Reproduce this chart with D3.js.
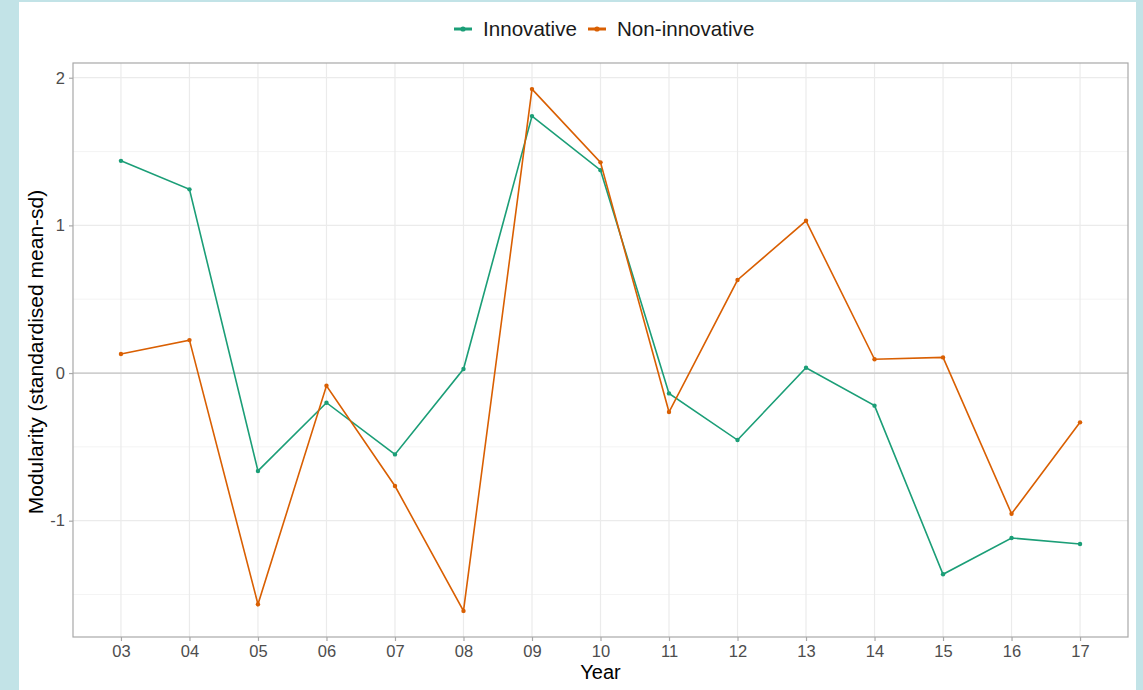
<!DOCTYPE html>
<html>
<head>
<meta charset="utf-8">
<script src="https://cdn.jsdelivr.net/npm/d3@7"></script>
<style>
  html, body { margin: 0; padding: 0; background: #c2e3e7; }
  svg { display: block; font-family: "Liberation Sans", Arial, Helvetica, sans-serif; }
</style>
</head>
<body>
<svg id="chart" width="1143" height="690"></svg>
<script>
// Years (two-digit labels) and the standardised modularity of each group
const years = [3, 4, 5, 6, 7, 8, 9, 10, 11, 12, 13, 14, 15, 16, 17];
const yearLabels = ["03", "04", "05", "06", "07", "08", "09", "10", "11", "12", "13", "14", "15", "16", "17"];
const innovative = [1.437, 1.244, -0.663, -0.201, -0.551, 0.027, 1.740, 1.374, -0.138, -0.454, 0.036, -0.221, -1.363, -1.117, -1.158];
const nonInnovative = [0.129, 0.223, -1.566, -0.086, -0.765, -1.611, 1.923, 1.427, -0.264, 0.630, 1.031, 0.093, 0.106, -0.953, -0.334];
const seriesNames = ["Innovative", "Non-innovative"];
const seriesColors = ["#1b9e77", "#d95f02"];
const yTicks = [-1, 0, 1, 2];
const yTickLabels = ["-1", "0", "1", "2"];
const yMinor = [-1.5, -0.5, 0.5, 1.5];

const series = [
  { name: seriesNames[0], color: seriesColors[0], values: innovative },
  { name: seriesNames[1], color: seriesColors[1], values: nonInnovative }
];

const svg = d3.select("#chart");

// white card on the tinted page
svg.append("rect").attr("x", 19).attr("y", 2).attr("width", 1117).attr("height", 688).attr("fill", "#fff");

const panel = { left: 73, top: 63, right: 1128, bottom: 637 };

// continuous scales with a 5% expansion either side
const xExt = d3.extent(years);
const xPad = (xExt[1] - xExt[0]) * 0.05;
const x = d3.scaleLinear().domain([xExt[0] - xPad, xExt[1] + xPad]).range([panel.left, panel.right]);

const allVals = innovative.concat(nonInnovative);
const yExt = d3.extent(allVals);
const yPad = (yExt[1] - yExt[0]) * 0.05;
const y = d3.scaleLinear().domain([yExt[0] - yPad, yExt[1] + yPad]).range([panel.bottom, panel.top]);

const g = svg.append("g");

// minor grid
g.selectAll("line.ymin").data(yMinor).enter().append("line")
  .attr("x1", panel.left).attr("x2", panel.right)
  .attr("y1", d => y(d)).attr("y2", d => y(d))
  .attr("stroke", "#f0f0f0").attr("stroke-width", 0.8);

// major grid
g.selectAll("line.ymaj").data(yTicks).enter().append("line")
  .attr("x1", panel.left).attr("x2", panel.right)
  .attr("y1", d => y(d)).attr("y2", d => y(d))
  .attr("stroke", "#ebebeb").attr("stroke-width", 1.2);
g.selectAll("line.xmaj").data(years).enter().append("line")
  .attr("y1", panel.top).attr("y2", panel.bottom)
  .attr("x1", d => x(d)).attr("x2", d => x(d))
  .attr("stroke", "#ebebeb").attr("stroke-width", 1.2);

// reference line at zero
g.append("line")
  .attr("x1", panel.left).attr("x2", panel.right)
  .attr("y1", y(0)).attr("y2", y(0))
  .attr("stroke", "#c4c4c4").attr("stroke-width", 1.2);

// series lines and points
const line = d3.line().x((d, i) => x(years[i])).y(d => y(d));
series.forEach(s => {
  g.append("path").datum(s.values)
    .attr("d", line).attr("fill", "none")
    .attr("stroke", s.color).attr("stroke-width", 1.6);
  g.selectAll(null).data(s.values).enter().append("circle")
    .attr("cx", (d, i) => x(years[i])).attr("cy", d => y(d))
    .attr("r", 2.2).attr("fill", s.color);
});

// panel border
g.append("rect")
  .attr("x", panel.left).attr("y", panel.top)
  .attr("width", panel.right - panel.left).attr("height", panel.bottom - panel.top)
  .attr("fill", "none").attr("stroke", "#a8a8a8").attr("stroke-width", 1.2);

// axes
const xAxis = d3.axisBottom(x).tickValues(years)
  .tickFormat((d, i) => yearLabels[i]).tickSize(4).tickPadding(4);
const yAxis = d3.axisLeft(y).tickValues(yTicks)
  .tickFormat((d, i) => yTickLabels[i]).tickSize(4).tickPadding(4);

const gx = svg.append("g").attr("transform", `translate(0,${panel.bottom})`).call(xAxis);
const gy = svg.append("g").attr("transform", `translate(${panel.left},0)`).call(yAxis);
[gx, gy].forEach(a => {
  a.select(".domain").remove();
  a.selectAll(".tick line").attr("stroke", "#a8a8a8").attr("stroke-width", 1.2);
  a.selectAll(".tick text").attr("fill", "#4d4d4d").style("font-size", "16.5px")
    .style("font-family", "'Liberation Sans', Arial, sans-serif");
});

// axis titles
svg.append("text").attr("x", (panel.left + panel.right) / 2).attr("y", 679)
  .attr("text-anchor", "middle").attr("fill", "#000").style("font-size", "20px").text("Year");
svg.append("text")
  .attr("transform", `translate(43,${(panel.top + panel.bottom) / 2 + 2}) rotate(-90)`)
  .attr("text-anchor", "middle").attr("fill", "#000").style("font-size", "21px")
  .text("Modularity (standardised mean-sd)");

// legend
const legendPos = [454, 588];
series.forEach((s, i) => {
  const lg = svg.append("g").attr("transform", `translate(${legendPos[i]},29)`);
  lg.append("line").attr("x1", 0).attr("x2", 18).attr("y1", 0).attr("y2", 0)
    .attr("stroke", s.color).attr("stroke-width", 3);
  lg.append("circle").attr("cx", 9).attr("cy", 0).attr("r", 2.6).attr("fill", s.color);
  lg.append("text").attr("x", 29).attr("y", 7).attr("fill", "#1a1a1a")
    .style("font-size", "20.6px").text(s.name);
});
</script>
</body>
</html>
